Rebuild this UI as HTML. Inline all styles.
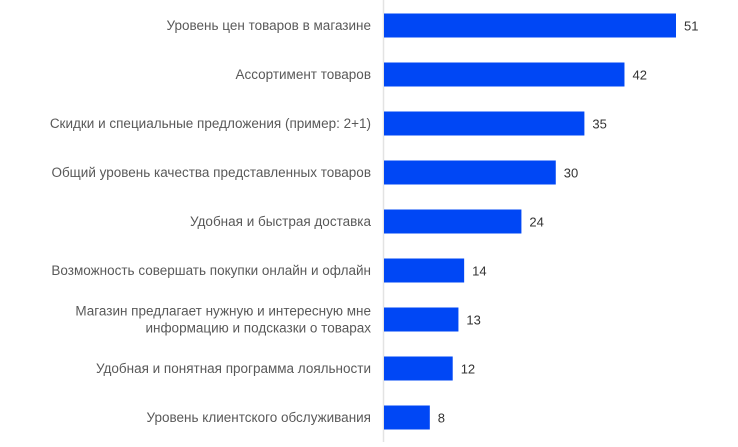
<!DOCTYPE html>
<html><head><meta charset="utf-8"><style>
body{margin:0;background:#fff;width:738px;height:442px;overflow:hidden;font-family:"Liberation Sans",sans-serif}
</style></head><body>
<svg id="chart" width="738" height="442" xmlns="http://www.w3.org/2000/svg">
<line x1="383.5" y1="0" x2="383.5" y2="442" stroke="#e3e3e3" stroke-width="1.5"/>
</svg>
<script>
const categories=[["Уровень цен товаров в магазине"],["Ассортимент товаров"],["Скидки и специальные предложения (пример: 2+1)"],["Общий уровень качества представленных товаров"],["Удобная и быстрая доставка"],["Возможность совершать покупки онлайн и офлайн"],["Магазин предлагает нужную и интересную мне","информацию и подсказки о товарах"],["Удобная и понятная программа лояльности"],["Уровень клиентского обслуживания"]];
const values=[51,42,35,30,24,14,13,12,8];
const svg=document.getElementById('chart');
const NS='http://www.w3.org/2000/svg';
const x0=384, scale=292/51;
const xPos=v=>x0+v*scale;
const yCenter=i=>25.5+i*49;
values.forEach((v,i)=>{
  const cy=yCenter(i);
  const r=document.createElementNS(NS,'rect');
  r.setAttribute('x',x0);r.setAttribute('y',cy-12);
  r.setAttribute('width',xPos(v)-x0);r.setAttribute('height',24);
  r.setAttribute('fill','#0047f5');
  
  
  svg.appendChild(r);
  const t=document.createElementNS(NS,'text');
  t.setAttribute('x',xPos(v)+8);t.setAttribute('y',cy+5);
  t.setAttribute('font-size','13');t.setAttribute('fill','#333');
  t.textContent=v;
  
  
  svg.appendChild(t);
  const lines=categories[i];
  lines.forEach((ln,j)=>{
    const c=document.createElementNS(NS,'text');
    c.setAttribute('x',371);
    c.setAttribute('y',cy+4.5+(j-(lines.length-1)/2)*17);
    c.setAttribute('text-anchor','end');
    c.setAttribute('font-size','13.5');c.setAttribute('fill','#595959');
    c.textContent=ln;
    
    
    svg.appendChild(c);
  });
});
</script>
</body></html>
